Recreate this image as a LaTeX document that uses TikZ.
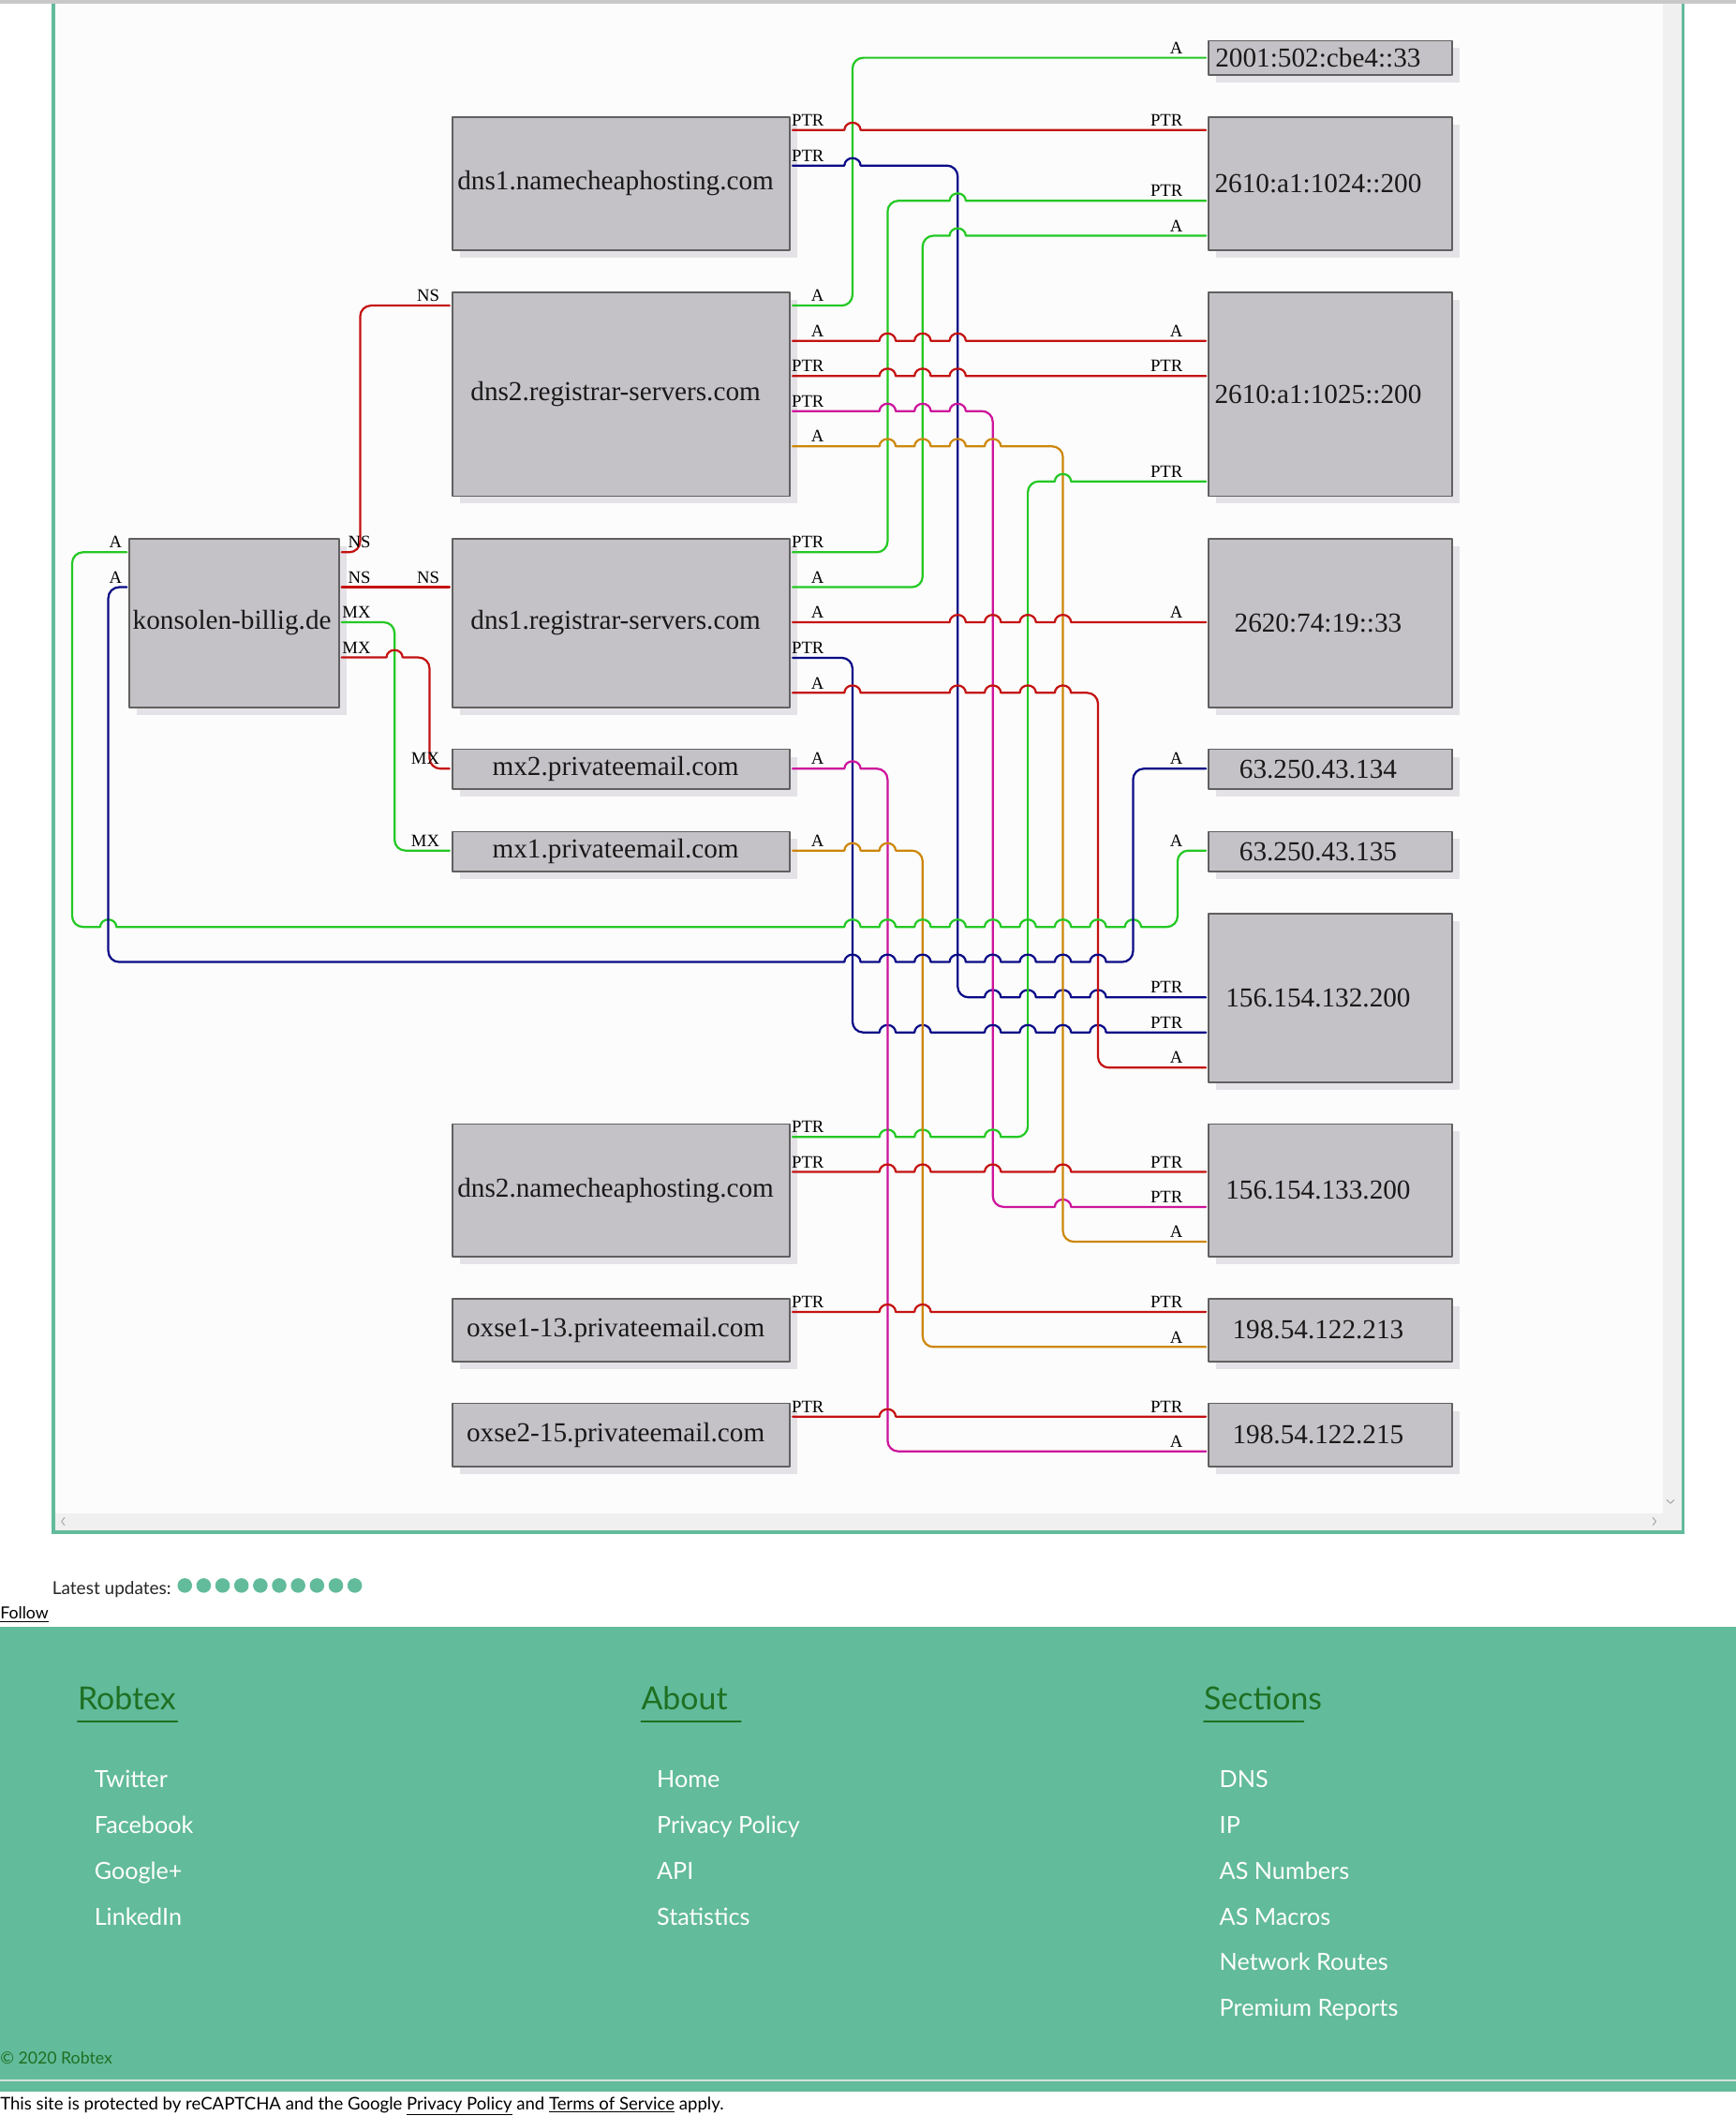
\documentclass[tikz,border=0pt]{standalone}
\usepackage{fontspec}
\setmainfont{Liberation Serif}
\newfontfamily\webfont{Lato}
\usetikzlibrary{shadows}
\definecolor{eRed}{RGB}{196,18,18}
\definecolor{eGreen}{RGB}{36,200,36}
\definecolor{eBlue}{RGB}{10,10,135}
\definecolor{eMag}{RGB}{205,20,155}
\definecolor{eOrg}{RGB}{205,135,12}
\definecolor{boxFill}{RGB}{196,194,198}
\definecolor{boxLine}{RGB}{96,96,96}
\definecolor{boxShadow}{RGB}{228,226,231}
\definecolor{tealA}{RGB}{98,187,155}
\definecolor{headGreen}{RGB}{30,112,34}
\definecolor{innerBg}{RGB}{251,252,251}
\definecolor{scrollGray}{RGB}{240,240,240}
\definecolor{topGray}{RGB}{200,200,200}
\definecolor{footLine}{RGB}{214,226,220}
\newcommand\hp[2]{-- (#1-6,#2) (#1-6,#2) arc[start angle=180,end angle=360,x radius=6,y radius=5.5] (#1+6,#2)}
\newcommand\lb[4]{\node[lab] (#1) at (#2,#3-3) {#4};}
\tikzset{
  box/.style={draw=boxLine, line width=1.1pt, fill=boxFill, inner sep=0pt, outer sep=2pt,
    drop shadow={shadow xshift=5.5pt, shadow yshift=-5.5pt, fill=boxShadow, opacity=1}},
  ntext/.style={font=\fontsize{20.3}{24}\selectfont, inner sep=0pt, text=black!90},
  lab/.style={font=\fontsize{13}{13}\selectfont, inner sep=0pt, anchor=base east},
  edge/.style={line width=1.55pt, rounded corners=8pt},
  head/.style={font=\webfont\fontsize{23.5}{26}\selectfont, text=headGreen, inner sep=0pt, anchor=base west},
  item/.style={font=\webfont\fontsize{17.5}{20}\selectfont, text=white, inner sep=0pt, anchor=base west},
  small/.style={font=\webfont\fontsize{12.3}{14}\selectfont, inner sep=0pt, anchor=base west}
}
\begin{document}
\begin{tikzpicture}[x=1pt,y=-1pt,line cap=round,line join=round]
\useasboundingbox (0,0) rectangle (1287,1568.3);
% page background
\fill[white] (0,0) rectangle (1287,1568.3);
\fill[topGray] (0,0) rectangle (1287,2.8);
\fill[innerBg] (40.8,2.8) rectangle (1233,1122);
\fill[scrollGray] (1233,2.8) rectangle (1246.5,1122);
\fill[scrollGray] (40.8,1122) rectangle (1246.5,1134.5);
\fill[tealA] (38.5,2.8) rectangle (40.8,1136.8);
\fill[tealA] (1246.5,2.8) rectangle (1248.8,1136.8);
\fill[tealA] (38.5,1134.4) rectangle (1248.8,1136.8);
\draw[black!35, line width=0.7pt] (47.8,1124.8) -- (45.6,1127.6) -- (47.8,1130.4);
\draw[black!35, line width=0.7pt] (1225.4,1124.8) -- (1227.6,1127.6) -- (1225.4,1130.4);
\draw[black!35, line width=0.7pt] (1235.6,1111.6) -- (1238.4,1114.2) -- (1241.2,1111.6);

% boxes
\node[box, minimum width=155.3pt, minimum height=124.9pt] (k) at (173.65,461.85) {};
\node[box, minimum width=250.3pt, minimum height=98.5pt] (m1) at (460.45,136.05) {};
\node[box, minimum width=250.3pt, minimum height=150.9pt] (m2) at (460.45,292.35) {};
\node[box, minimum width=250.3pt, minimum height=124.9pt] (m3) at (460.45,461.85) {};
\node[box, minimum width=250.3pt, minimum height=29.6pt] (m4) at (460.45,570.2) {};
\node[box, minimum width=250.3pt, minimum height=29.5pt] (m5) at (460.45,631.15) {};
\node[box, minimum width=250.3pt, minimum height=98.5pt] (m6) at (460.45,882.25) {};
\node[box, minimum width=250.3pt, minimum height=46.5pt] (m7) at (460.45,985.85) {};
\node[box, minimum width=250.3pt, minimum height=46.8pt] (m8) at (460.45,1063.6) {};
\node[box, minimum width=180.7pt, minimum height=25.5pt] (r1) at (986.35,42.85) {};
\node[box, minimum width=180.7pt, minimum height=98.5pt] (r2) at (986.35,136.05) {};
\node[box, minimum width=180.7pt, minimum height=150.9pt] (r3) at (986.35,292.35) {};
\node[box, minimum width=180.7pt, minimum height=124.9pt] (r4) at (986.35,461.85) {};
\node[box, minimum width=180.7pt, minimum height=29.6pt] (r5) at (986.35,570.2) {};
\node[box, minimum width=180.7pt, minimum height=29.5pt] (r6) at (986.35,631.15) {};
\node[box, minimum width=180.7pt, minimum height=124.9pt] (r7) at (986.35,739.65) {};
\node[box, minimum width=180.7pt, minimum height=98.5pt] (r8) at (986.35,882.25) {};
\node[box, minimum width=180.7pt, minimum height=46.5pt] (r9) at (986.35,985.85) {};
\node[box, minimum width=180.7pt, minimum height=46.8pt] (r10) at (986.35,1063.6) {};

% box texts
\node[ntext] (kt) at (172,461.85) {konsolen-billig.de};
\node[ntext] (m1t) at (456.4,136.05) {dns1.namecheaphosting.com};
\node[ntext] (m2t) at (456.4,292.35) {dns2.registrar-servers.com};
\node[ntext] (m3t) at (456.4,461.85) {dns1.registrar-servers.com};
\node[ntext] (m4t) at (456.4,570.2) {mx2.privateemail.com};
\node[ntext] (m5t) at (456.4,631.15) {mx1.privateemail.com};
\node[ntext] (m6t) at (456.4,882.25) {dns2.namecheaphosting.com};
\node[ntext] (m7t) at (456.4,985.85) {oxse1-13.privateemail.com};
\node[ntext] (m8t) at (456.4,1063.6) {oxse2-15.privateemail.com};
\node[ntext] (r1t) at (977.2,42.85) {2001:502:cbe4::33};
\node[ntext] (r2t) at (977.2,136.05) {2610:a1:1024::200};
\node[ntext] (r3t) at (977.2,292.35) {2610:a1:1025::200};
\node[ntext] (r4t) at (977.2,461.85) {2620:74:19::33};
\node[ntext] (r5t) at (977.2,570.2) {63.250.43.134};
\node[ntext] (r6t) at (977.2,631.15) {63.250.43.135};
\node[ntext] (r7t) at (977.2,739.65) {156.154.132.200};
\node[ntext] (r8t) at (977.2,882.25) {156.154.133.200};
\node[ntext] (r9t) at (977.2,985.85) {198.54.122.213};
\node[ntext] (r10t) at (977.2,1063.6) {198.54.122.215};

% edges
\draw[edge,eGreen] (m2.east |- 0,226.5) -- (632,226.5) -- (632,42.8) -- (r1.west |- 0,42.8);
\draw[edge,eRed] (m1.east |- 0,96.4) \hp{632}{96.4} -- (r2.west |- 0,96.4);
\draw[edge,eBlue] (m1.east |- 0,122.7) \hp{632}{122.7} -- (710,122.7) -- (710,739.2) \hp{736}{739.2}\hp{762}{739.2}\hp{788}{739.2}\hp{814}{739.2} -- (r7.west |- 0,739.2);
\draw[edge,eGreen] (m3.east |- 0,409.3) -- (658,409.3) -- (658,148.8) \hp{710}{148.8} -- (r2.west |- 0,148.8);
\draw[edge,eGreen] (m3.east |- 0,435.2) -- (684,435.2) -- (684,174.7) \hp{710}{174.7} -- (r2.west |- 0,174.7);
\draw[edge,eRed] (m2.east |- 0,252.6) \hp{658}{252.6}\hp{684}{252.6}\hp{710}{252.6} -- (r3.west |- 0,252.6);
\draw[edge,eRed] (m2.east |- 0,278.7) \hp{658}{278.7}\hp{684}{278.7}\hp{710}{278.7} -- (r3.west |- 0,278.7);
\draw[edge,eMag] (m2.east |- 0,304.7) \hp{658}{304.7}\hp{684}{304.7}\hp{710}{304.7} -- (736,304.7) -- (736,894.5) \hp{788}{894.5} -- (r8.west |- 0,894.5);
\draw[edge,eOrg] (m2.east |- 0,330.8) \hp{658}{330.8}\hp{684}{330.8}\hp{710}{330.8}\hp{736}{330.8} -- (788,330.8) -- (788,920.3) -- (r8.west |- 0,920.3);
\draw[edge,eGreen] (m6.east |- 0,842.7) \hp{658}{842.7}\hp{684}{842.7}\hp{736}{842.7} -- (762,842.7) -- (762,356.8) \hp{788}{356.8} -- (r3.west |- 0,356.8);
\draw[edge,eRed] (m3.east |- 0,461.2) \hp{710}{461.2}\hp{736}{461.2}\hp{762}{461.2}\hp{788}{461.2} -- (r4.west |- 0,461.2);
\draw[edge,eBlue] (m3.east |- 0,487.5) -- (632,487.5) -- (632,765.2) \hp{658}{765.2}\hp{684}{765.2}\hp{736}{765.2}\hp{762}{765.2}\hp{788}{765.2}\hp{814}{765.2} -- (r7.west |- 0,765.2);
\draw[edge,eRed] (m3.east |- 0,513.5) \hp{632}{513.5}\hp{710}{513.5}\hp{736}{513.5}\hp{762}{513.5}\hp{788}{513.5} -- (814,513.5) -- (814,791.3) -- (r7.west |- 0,791.3);
\draw[edge,eMag] (m4.east |- 0,569.7) \hp{632}{569.7} -- (658,569.7) -- (658,1075.7) -- (r10.west |- 0,1075.7);
\draw[edge,eOrg] (m5.east |- 0,630.4) \hp{632}{630.4}\hp{658}{630.4} -- (684,630.4) -- (684,998.3) -- (r9.west |- 0,998.3);
\draw[edge,eGreen] (k.west |- 0,409.3) -- (53.5,409.3) -- (53.5,687) \hp{80.3}{687}\hp{632}{687}\hp{658}{687}\hp{684}{687}\hp{710}{687}\hp{736}{687}\hp{762}{687}\hp{788}{687}\hp{814}{687}\hp{840}{687} -- (873,687) -- (873,630.4) -- (r6.west |- 0,630.4);
\draw[edge,eBlue] (k.west |- 0,435.2) -- (80.3,435.2) -- (80.3,713) \hp{632}{713}\hp{658}{713}\hp{684}{713}\hp{710}{713}\hp{736}{713}\hp{762}{713}\hp{788}{713}\hp{814}{713} -- (840,713) -- (840,569.7) -- (r5.west |- 0,569.7);
\draw[edge,eRed] (k.east |- 0,409.3) -- (267,409.3) -- (267,226.5) -- (m2.west |- 0,226.5);
\draw[edge,eRed] (k.east |- 0,435.2) -- (m3.west |- 0,435.2);
\draw[edge,eGreen] (k.east |- 0,461.2) -- (292.5,461.2) -- (292.5,630.4) -- (m5.west |- 0,630.4);
\draw[edge,eRed] (k.east |- 0,487.3) \hp{292.5}{487.3} -- (318.4,487.3) -- (318.4,569.7) -- (m4.west |- 0,569.7);
\draw[edge,eRed] (m6.east |- 0,868.5) \hp{658}{868.5}\hp{684}{868.5}\hp{736}{868.5}\hp{788}{868.5} -- (r8.west |- 0,868.5);
\draw[edge,eRed] (m7.east |- 0,972.3) \hp{658}{972.3}\hp{684}{972.3} -- (r9.west |- 0,972.3);
\draw[edge,eRed] (m8.east |- 0,1049.9) \hp{658}{1049.9} -- (r10.west |- 0,1049.9);

% edge labels
\lb{e1s}{611}{226.5}{A} \lb{e1t}{877}{42.8}{A}
\lb{e2s}{611}{96.4}{PTR} \lb{e2t}{877}{96.4}{PTR}
\lb{e3s}{611}{122.7}{PTR} \lb{e3t}{877}{739.2}{PTR}
\lb{e4s}{611}{409.3}{PTR} \lb{e4t}{877}{148.8}{PTR}
\lb{e5s}{611}{435.2}{A} \lb{e5t}{877}{174.7}{A}
\lb{e6s}{611}{252.6}{A} \lb{e6t}{877}{252.6}{A}
\lb{e7s}{611}{278.7}{PTR} \lb{e7t}{877}{278.7}{PTR}
\lb{e8s}{611}{304.7}{PTR} \lb{e8t}{877}{894.5}{PTR}
\lb{e9s}{611}{330.8}{A} \lb{e9t}{877}{920.3}{A}
\lb{e10s}{611}{842.7}{PTR} \lb{e10t}{877}{356.8}{PTR}
\lb{e11s}{611}{461.2}{A} \lb{e11t}{877}{461.2}{A}
\lb{e12s}{611}{487.5}{PTR} \lb{e12t}{877}{765.2}{PTR}
\lb{e13s}{611}{513.5}{A} \lb{e13t}{877}{791.3}{A}
\lb{e14s}{611}{569.7}{A} \lb{e14t}{877}{1075.7}{A}
\lb{e15s}{611}{630.4}{A} \lb{e15t}{877}{998.3}{A}
\lb{e16s}{90.6}{409.3}{A} \lb{e16t}{877}{630.4}{A}
\lb{e17s}{90.6}{435.2}{A} \lb{e17t}{877}{569.7}{A}
\lb{e18s}{275}{409.3}{NS} \lb{e18t}{326}{226.5}{NS}
\lb{e19s}{275}{435.2}{NS} \lb{e19t}{326}{435.2}{NS}
\lb{e20s}{275}{461.2}{MX} \lb{e20t}{326}{630.4}{MX}
\lb{e21s}{275}{487.3}{MX} \lb{e21t}{326}{569.7}{MX}
\lb{e22s}{611}{868.5}{PTR} \lb{e22t}{877}{868.5}{PTR}
\lb{e23s}{611}{972.3}{PTR} \lb{e23t}{877}{972.3}{PTR}
\lb{e24s}{611}{1049.9}{PTR} \lb{e24t}{877}{1049.9}{PTR}

% below the frame
\node[small, text=black!85, font=\webfont\fontsize{13.2}{15}\selectfont] (lu) at (38.6,1182) {Latest updates:};
\foreach \i in {0,...,9} \fill[tealA] (137+14*\i,1175.1) circle[radius=5.4];
\node[small, text=black] (fo) at (0,1200) {\underline{Follow}};

% footer
\fill[tealA] (0,1205.4) rectangle (1287,1550);
\fill[footLine] (0,1541.2) rectangle (1287,1542.8);
\node[head] (h1) at (57.5,1267.5) {Robtex};
\node[head] (h2) at (475.3,1267.5) {About};
\node[head] (h3) at (892.4,1267.5) {Sections};
\draw[headGreen, line width=1pt] (57.5,1276) -- (131.5,1276);
\draw[headGreen, line width=1pt] (475.3,1276) -- (549.3,1276);
\draw[headGreen, line width=1pt] (892.4,1276) -- (966.4,1276);
\node[item] (a1) at (69.8,1324.6) {Twitter};
\node[item] (a2) at (69.8,1358.6) {Facebook};
\node[item] (a3) at (69.8,1392.6) {Google+};
\node[item] (a4) at (69.8,1426.6) {LinkedIn};
\node[item] (b1) at (486.8,1324.6) {Home};
\node[item] (b2) at (486.8,1358.6) {Privacy Policy};
\node[item] (b3) at (486.8,1392.6) {API};
\node[item] (b4) at (486.8,1426.6) {Statistics};
\node[item] (c1) at (903.9,1324.6) {DNS};
\node[item] (c2) at (903.9,1358.6) {IP};
\node[item] (c3) at (903.9,1392.6) {AS Numbers};
\node[item] (c4) at (903.9,1426.6) {AS Macros};
\node[item] (c5) at (903.9,1460.6) {Network Routes};
\node[item] (c6) at (903.9,1494.6) {Premium Reports};
\node[small, text=headGreen] (cp) at (0,1530) {© 2020 Robtex};
\node[small, text=black, font=\webfont\fontsize{12.9}{15}\selectfont] (rc) at (0,1563.6) {This site is protected by reCAPTCHA and the Google \underline{Privacy Policy} and \underline{Terms of Service} apply.};
\end{tikzpicture}
\end{document}
